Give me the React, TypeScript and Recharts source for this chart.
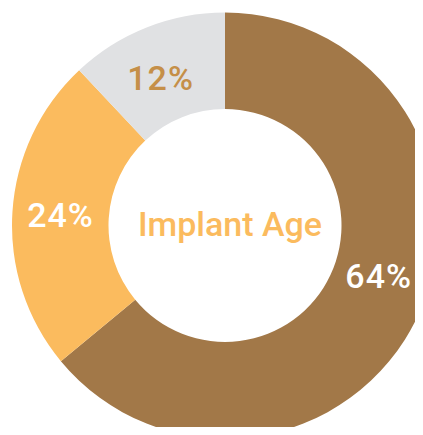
import { PieChart, Pie, Cell } from "recharts";

const categories = ["64%", "24%", "12%"];
const values = [64, 24, 12];
const colors = ["#A27848", "#FBBB5E", "#E0E1E3"];
const labelColors = ["#FFFFFF", "#FFFFFF", "#C58F48"];
// small nudge so the labels sit where the original has them
const labelAngleShift = [7, 0, 2];
const labelRadiusShift = [-3, 0, -4];

const data = categories.map((name, i) => ({ name, value: values[i] }));

const RADIAN = Math.PI / 180;

function renderLabel(props: any) {
  const { cx, cy, midAngle, innerRadius, outerRadius, index } = props;
  const r = (innerRadius + outerRadius) / 2 + labelRadiusShift[index];
  const a = (midAngle + labelAngleShift[index]) * RADIAN;
  const x = cx + r * Math.cos(a);
  const y = cy - r * Math.sin(a);
  return (
    <text
      x={x}
      y={y}
      fill={labelColors[index]}
      textAnchor="middle"
      dominantBaseline="central"
      fontFamily="Roboto"
      fontWeight={500}
      fontSize={34}
      letterSpacing={1}
    >
      {categories[index]}
    </text>
  );
}

export default function App() {
  return (
    <div style={{ margin: -8, width: 423, height: 435, background: "#fff" }}>
      <PieChart width={423} height={435} margin={{ top: 0, right: 0, bottom: 0, left: 0 }}>
        <Pie
          data={data}
          dataKey="value"
          cx={225}
          cy={225.5}
          innerRadius={116.5}
          outerRadius={213}
          startAngle={90}
          endAngle={-270}
          stroke="none"
          labelLine={false}
          label={renderLabel}
          isAnimationActive={false}
        >
          {data.map((d, i) => (
            <Cell key={d.name} fill={colors[i]} />
          ))}
        </Pie>
        <text
          x={230}
          y={224}
          textAnchor="middle"
          dominantBaseline="central"
          fill="#FBBB5E"
          fontFamily="Roboto"
          fontWeight={500}
          fontSize={34}
        >
          Implant Age
        </text>
      </PieChart>
    </div>
  );
}
